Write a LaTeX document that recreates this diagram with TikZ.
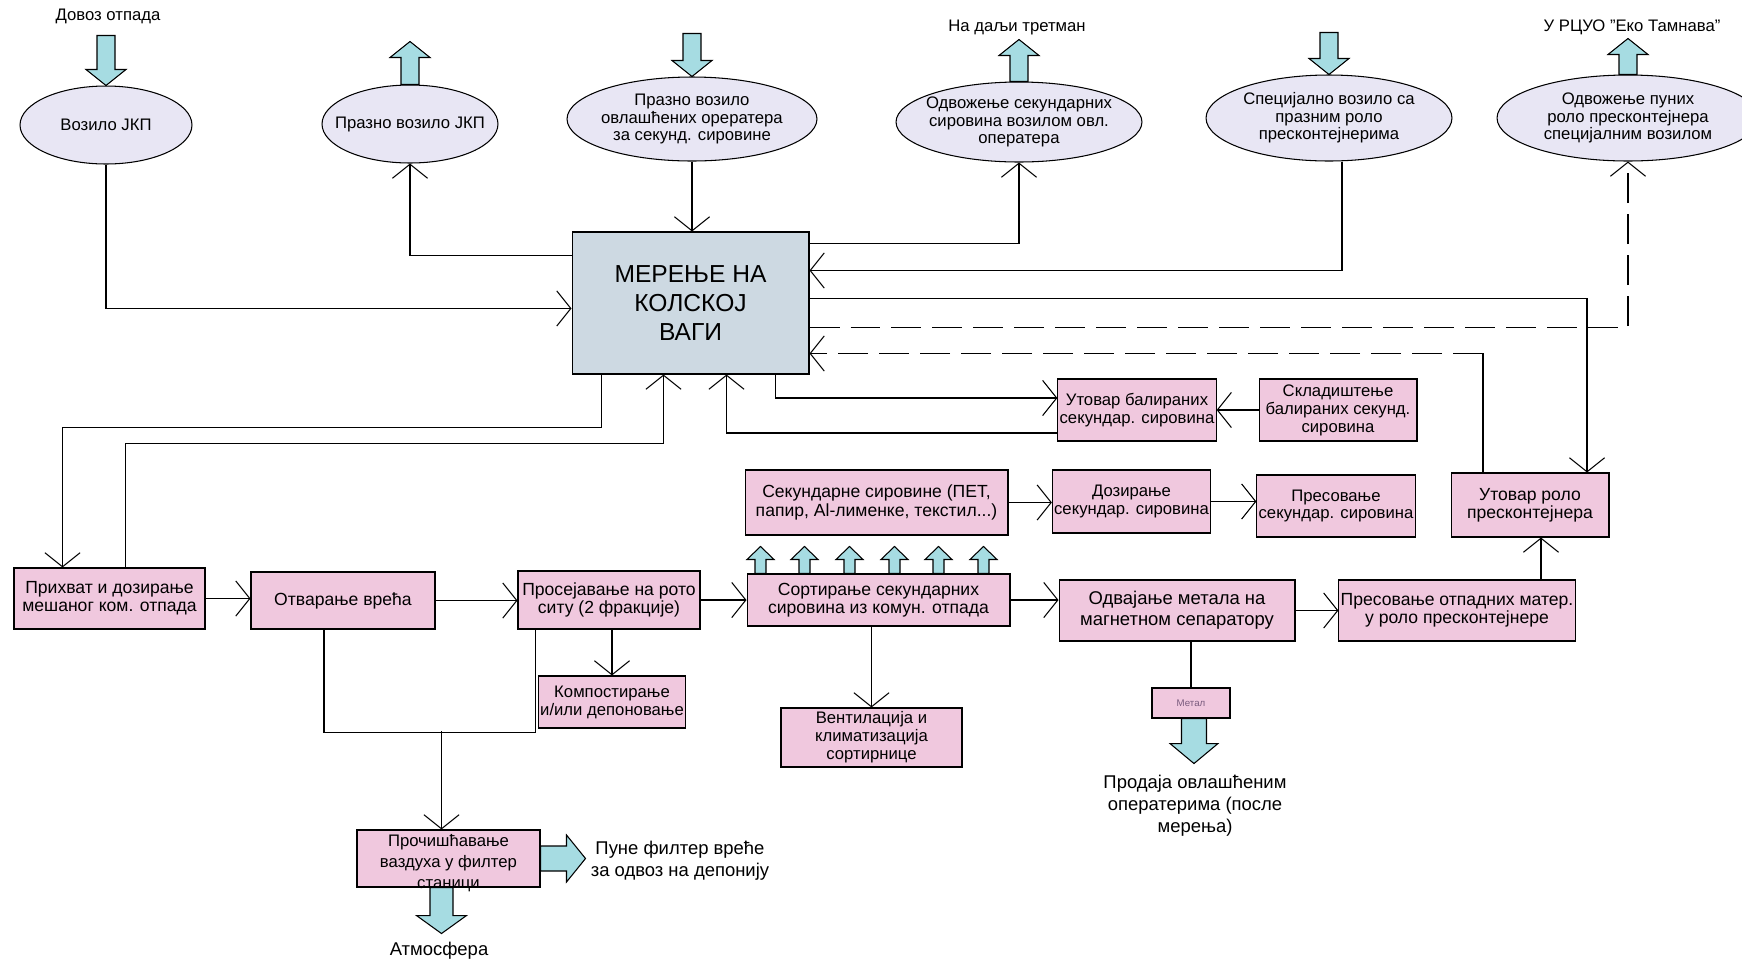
\documentclass[tikz,border=0pt]{standalone}
\usepackage{fontspec}
\setmainfont{Liberation Sans}
\usetikzlibrary{arrows.meta, calc, shapes.geometric}

\definecolor{ovalfill}{RGB}{232,230,244}
\definecolor{weighfill}{RGB}{205,217,226}
\definecolor{stagefill}{RGB}{240,200,222}
\definecolor{arrowfill}{RGB}{166,220,226}
\definecolor{metaltext}{RGB}{120,90,125}

% fat arrow: base, angle, length, shaft half, head half, head length
\newcommand{\fatarrow}[6]{%
  \begin{scope}[shift={#1}, rotate=#2]
    \draw[blockarrow] (0,-#4) -- (#3-#6,-#4) -- (#3-#6,-#5) -- (#3,0)
      -- (#3-#6,#5) -- (#3-#6,#4) -- (0,#4) -- cycle;
  \end{scope}}

\begin{document}
\begin{tikzpicture}[x=0.02cm, y=-0.02cm, line width=0.6pt,
    >={Straight Barb[length=8pt,width=20pt]},
    vehicle/.style={ellipse,draw,fill=ovalfill,inner xsep=-0.3cm,inner ysep=0pt,align=center,font=\fontsize{9.5}{10}\selectfont},
    stage/.style={rectangle,draw,fill=stagefill,inner sep=1pt,align=center,font=\fontsize{10}{10.4}\selectfont},
    small stage/.style={stage,font=\fontsize{9.5}{10.2}\selectfont},
    weighbox/.style={rectangle,draw,fill=weighfill,align=center,font=\fontsize{14}{16.4}\selectfont},
    blockarrow/.style={draw,fill=arrowfill,line width=0.6pt},
    longdash/.style={dash pattern=on 0.6cm off 0.22cm},
    txt/.style={align=center,inner sep=0pt,font=\fontsize{9.5}{10}\selectfont},
    big txt/.style={txt,font=\fontsize{10.5}{12.5}\selectfont}]

    \useasboundingbox (0,0) rectangle (1742,958);

    % vehicles
    \node[vehicle,minimum width=3.44cm,minimum height=1.56cm] (elVozilo) at (106,125) {Возило ЈКП};
    \node[vehicle,minimum width=3.52cm,minimum height=1.56cm] (elPrazno) at (410,124) {Празно возило ЈКП};
    \node[vehicle,minimum width=5.0cm,minimum height=1.68cm] (elOvl) at (692,119) {Празно возило\\овлашћених орератера\\за секунд. сировине};
    \node[vehicle,minimum width=4.92cm,minimum height=1.6cm] (elOdv) at (1019,122) {Одвожење секундарних\\сировина возилом овл.\\оператера};
    \node[vehicle,minimum width=4.92cm,minimum height=1.72cm] (elSpec) at (1329,118) {Специјално возило са\\празним роло\\пресконтејнерима};
    \node[vehicle,minimum width=5.24cm,minimum height=1.72cm] (elPunih) at (1628,118) {Одвожење пуних\\роло пресконтејнера\\специјалним возилом};

    \node[txt] (lblDovoz) at (108,16) {Довоз отпада};
    \node[txt] (lblDalji) at (1017,27) {На даљи третман};
    \node[txt] (lblRcuo) at (1632,27) {У РЦУО "Еко Тамнава"};

    % weighing
    \node[weighbox,minimum width=4.74cm,minimum height=2.84cm] (vaga) at (690.5,303) {МЕРЕЊЕ НА\\КОЛСКОЈ\\ВАГИ};

    % stages
    \node[stage,minimum width=3.82cm,minimum height=1.22cm] (prihvat) at (109.5,598.5) {Прихват и дозирање\\мешаног ком. отпада};
    \node[stage,minimum width=3.68cm,minimum height=1.14cm] (otvaranje) at (343,600.5) {Отварање врећа};
    \node[stage,minimum width=3.64cm,minimum height=1.16cm] (prosej) at (609,600) {Просејавање на рото\\ситу (2 фракције)};
    \node[small stage,minimum width=2.84cm,minimum height=1.04cm] (kompost) at (612,702) {Компостирање\\и/или депоновање};
    \node[stage,minimum width=5.26cm,minimum height=1.04cm] (sort) at (878.5,600) {Сортирање секундарних\\сировина из комун. отпада};
    \node[stage,minimum width=4.72cm,minimum height=1.22cm,font=\fontsize{10.5}{12}\selectfont] (odvajanje) at (1177,610.5) {Одвајање метала на\\магнетном сепаратору};
    \node[stage,minimum width=4.68cm,minimum height=1.22cm] (presOtp) at (1457,610.5) {Пресовање отпадних матер.\\у роло пресконтејнере};
    \node[stage,minimum width=5.26cm,minimum height=1.3cm] (sekSir) at (876.5,502.5) {Секундарне сировине (ПЕТ,\\папир, Al-лименке, текстил...)};
    \node[small stage,minimum width=3.14cm,minimum height=1.26cm] (doziranje) at (1131.5,501.5) {Дозирање\\секундар. сировина};
    \node[small stage,minimum width=3.16cm,minimum height=1.24cm] (presSek) at (1336,506) {Пресовање\\секундар. сировина};
    \node[stage,minimum width=3.16cm,minimum height=1.28cm] (utovarRolo) at (1530,505) {Утовар роло\\пресконтејнера};
    \node[small stage,minimum width=3.16cm,minimum height=1.24cm] (utovarBal) at (1137,410) {Утовар балираних\\секундар. сировина};
    \node[small stage,minimum width=3.16cm,minimum height=1.24cm] (sklad) at (1338,410) {Складиштење\\балираних секунд.\\сировина};
    \node[small stage,minimum width=3.62cm,minimum height=1.18cm] (ventil) at (871.5,737.5) {Вентилација и\\климатизација\\сортирнице};
    \node[stage,minimum width=1.56cm,minimum height=0.6cm,font=\fontsize{5.5}{6}\selectfont,text=metaltext] (metal) at (1191,703) {Метал};
    \node[small stage,minimum width=3.66cm,minimum height=1.14cm] (filter) at (448.5,858.5) {};
    \node[txt,font=\fontsize{9.5}{11.9}\selectfont] (filterText) at ($(filter.center)+(0,5)$) {Прочишћавање\\ваздуха у филтер\\станици};

    \node[big txt] (lblPune) at (680,861) {Пуне филтер вреће\\за одвоз на депонију};
    \node[big txt] (lblAtmos) at (439,951) {Атмосфера};
    \node[big txt] (lblProdaja) at (1195,806) {Продаја овлашћеним\\оператерима (после\\мерења)};

    % vehicles <-> weighing
    \draw[->] (elVozilo.south) |- ($(vaga.north west)+(0,77)$);
    \draw[->] ($(vaga.north west)+(0,24)$) -| (elPrazno.south);
    \draw[->] (elOvl.south) -- (elOvl.south |- vaga.north);
    \draw[->] ($(vaga.north east)+(0,12)$) -| (elOdv.south);
    \draw[->] ($(elSpec.south)+(13,0)$) |- ($(vaga.north east)+(0,39)$);
    \draw[->] ($(vaga.north east)+(0,67)$) -| ($(utovarRolo.north)+(57,0)$);
    \draw[longdash,->] ($(vaga.north east)+(0,96)$) -| (elPunih.south);
    \coordinate (rtTurn) at ($(utovarRolo.north)+(-47,-119)$);
    \draw (utovarRolo.north -| rtTurn) -- (rtTurn);
    \draw[longdash,->] (rtTurn) -- (rtTurn -| vaga.east);

    % weighing <-> stages
    \draw[->] ($(vaga.south west)+(30,0)$) -- ++(0,53) -| ($(prihvat.north)+(-47,0)$);
    \draw[->] ($(prihvat.north)+(16,0)$) -- ++(0,-124) -| ($(vaga.south west)+(92,0)$);
    \draw[->] ($(vaga.south west)+(204,0)$) |- ($(utovarBal.west)+(0,-12)$);
    \draw[->] ($(utovarBal.west)+(0,23)$) -| ($(vaga.south west)+(155,0)$);
    \draw[->] (sklad.west) -- (utovarBal.east);

    % secondary materials
    \draw[->] (sekSir.east) -- (sekSir.east -| doziranje.west);
    \draw[->] (doziranje.east) -- (doziranje.east -| presSek.west);
    \draw[->] ($(presOtp.north)+(84,0)$) coordinate (rolUp) -- (rolUp |- utovarRolo.south);

    % main line
    \draw[->] (prihvat.east) -- (prihvat.east -| otvaranje.west);
    \draw[->] (otvaranje.east) -- (otvaranje.east -| prosej.west);
    \draw[->] (prosej.east) -- (prosej.east -| sort.west);
    \draw[->] (sort.east) -- (sort.east -| odvajanje.west);
    \draw[->] (odvajanje.east) -- (presOtp.west);
    \draw[->] (ventil.north |- sort.south) -- (ventil.north);
    \draw[->] (kompost.north |- prosej.south) -- (kompost.north);
    \draw (metal.north |- odvajanje.south) -- (metal.north);
    \draw ($(otvaranje.south)+(-19,0)$) |- ($(prosej.south west)+(18,103)$) -- ($(prosej.south west)+(18,0)$);
    \draw[->] ($(filter.north)+(-7,-98)$) -- ($(filter.north)+(-7,0)$);

    % fat arrows
    \fatarrow{($(elVozilo.north)+(0,-50)$)}{-90}{50}{9}{20}{16}
    \fatarrow{(elPrazno.north)}{90}{43}{9}{20}{16}
    \fatarrow{($(elOvl.north)+(0,-43)$)}{-90}{43}{9}{20}{16}
    \fatarrow{(elOdv.north)}{90}{42}{9}{20}{16}
    \fatarrow{($(elSpec.north)+(0,-42)$)}{-90}{42}{9}{20}{16}
    \fatarrow{(elPunih.north)}{90}{36}{9}{20}{16}
    \foreach \dx in {-118,-74,-29,16,60,105}{
        \fatarrow{($(sort.north)+(\dx,0)$)}{90}{27}{5.5}{13.5}{13}
    }
    \fatarrow{(filter.east)}{0}{45}{12.5}{23.5}{19}
    \fatarrow{($(filter.south)+(-7,0)$)}{-90}{46}{11.5}{25}{18}
    \fatarrow{($(metal.south)+(3,0)$)}{-90}{45}{12.5}{24}{20}
\end{tikzpicture}
\end{document}
